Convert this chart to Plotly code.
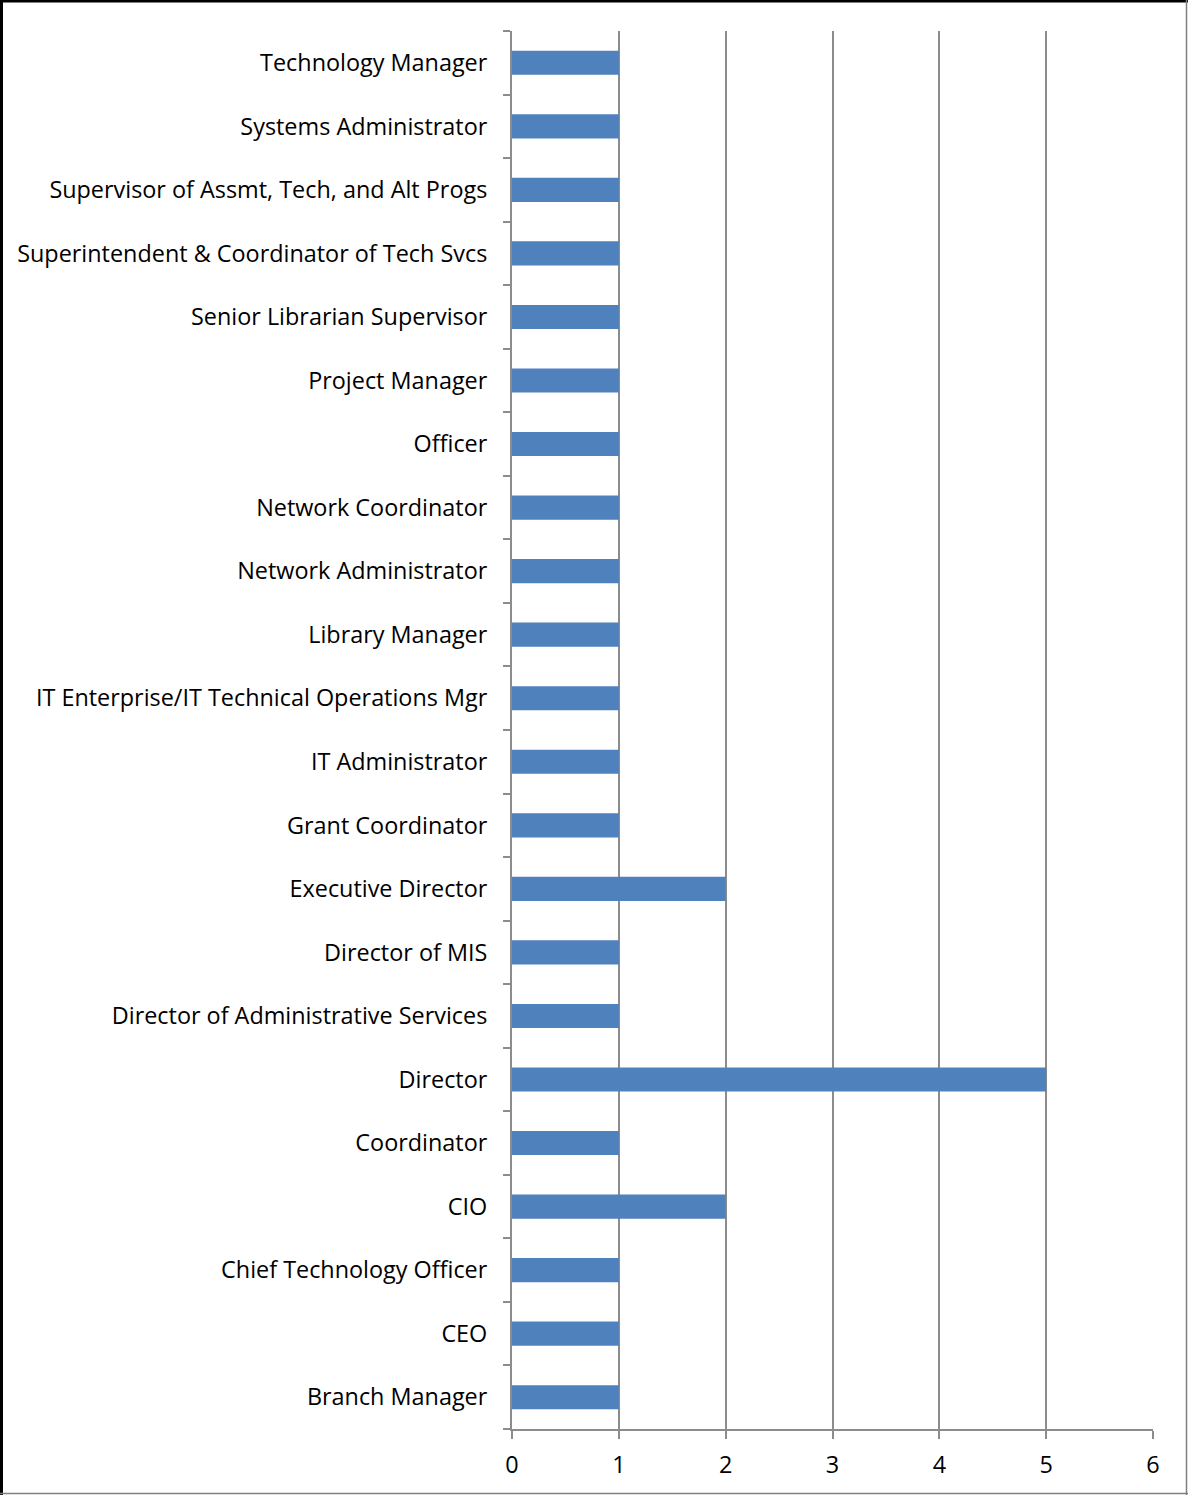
import plotly.graph_objects as go

categories = [
    "Branch Manager", "CEO", "Chief Technology Officer", "CIO", "Coordinator",
    "Director", "Director of Administrative Services", "Director of MIS",
    "Executive Director", "Grant Coordinator", "IT Administrator",
    "IT Enterprise/IT Technical Operations Mgr", "Library Manager",
    "Network Administrator", "Network Coordinator", "Officer", "Project Manager",
    "Senior Librarian Supervisor", "Superintendent & Coordinator of Tech Svcs",
    "Supervisor of Assmt, Tech, and Alt Progs", "Systems Administrator",
    "Technology Manager",
]
counts = [1, 1, 1, 2, 1, 5, 1, 1, 2, 1, 1, 1, 1, 1, 1, 1, 1, 1, 1, 1, 1, 1]
x_ticks = [0, 1, 2, 3, 4, 5, 6]

W, H = 1188, 1495
L, R, T, B = 512, 35, 31, 66
pw, ph = W - L - R, H - T - B

fig = go.Figure(go.Bar(
    x=counts, y=categories, orientation="h",
    marker=dict(color="#4F81BD", line=dict(width=0)),
    width=0.38,
))

FONT = "Open Sans"
FS = 23.4
fig.update_layout(
    width=W, height=H,
    margin=dict(l=L, r=R, t=T, b=B),
    paper_bgcolor="white", plot_bgcolor="white",
    showlegend=False,
    font=dict(family=FONT, size=FS, color="black"),
)
fig.update_xaxes(
    range=[0, 6], tickvals=x_ticks, ticktext=[str(v) for v in x_ticks],
    showgrid=True, gridcolor="#8C8C8C", gridwidth=2,
    showline=True, linecolor="#8C8C8C", linewidth=2,
    ticks="outside", ticklen=8, tickcolor="#8C8C8C", tickwidth=2,
    zeroline=False, tickfont=dict(size=FS, family=FONT),
    ticklabelstandoff=6,
)
fig.update_yaxes(
    type="category", categoryorder="array", categoryarray=categories,
    range=[-0.5, len(categories) - 0.5],
    showline=True, linecolor="#8C8C8C", linewidth=2,
    ticks="outside", tickson="boundaries", ticklen=7, tickcolor="#8C8C8C", tickwidth=2,
    showgrid=False, ticklabelstandoff=18,
    tickfont=dict(size=FS, family=FONT),
)

def px_x(p):
    return (p - L) / pw

def px_y(p):
    return (H - B - p) / ph

shapes = [
    dict(type="line", xref="paper", yref="paper", x0=px_x(0), x1=px_x(W), y0=px_y(1), y1=px_y(1), line=dict(color="black", width=3)),
    dict(type="line", xref="paper", yref="paper", x0=px_x(1.5), x1=px_x(1.5), y0=px_y(0), y1=px_y(H), line=dict(color="black", width=3)),
    dict(type="line", xref="paper", yref="paper", x0=px_x(W - 1.5), x1=px_x(W - 1.5), y0=px_y(0), y1=px_y(H), line=dict(color="#7F7F7F", width=1.5)),
    dict(type="line", xref="paper", yref="paper", x0=px_x(0), x1=px_x(W), y0=px_y(H - 1.5), y1=px_y(H - 1.5), line=dict(color="#7F7F7F", width=1.5)),
]
fig.update_layout(shapes=shapes)

fig.write_html(
    "out.html",
    config={"displayModeBar": False},
    post_script="document.body.style.margin='0';document.body.style.overflow='hidden';",
)
